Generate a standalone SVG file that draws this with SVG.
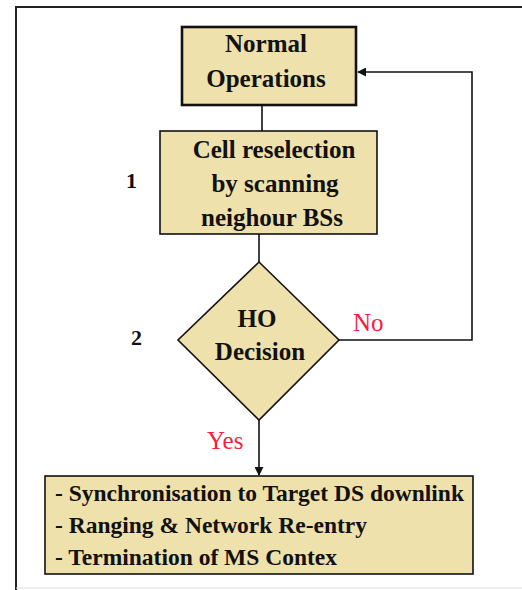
<svg xmlns="http://www.w3.org/2000/svg" width="522" height="590" viewBox="0 0 522 590">
<defs>
<style>
.box{fill:#EFE1AB;stroke:#111;stroke-width:1.6}
.t{font-family:"Liberation Serif","Times New Roman",serif;font-weight:bold;fill:#111}
.c{text-anchor:middle;font-size:25px}
.l{font-size:23.5px}
.n{font-size:22px}
.red{font-family:"Liberation Serif","Times New Roman",serif;fill:#F5213F;font-size:25px}
.ln{fill:none;stroke:#111;stroke-width:1.6}
</style>
<marker id="arr" viewBox="0 0 10 10" refX="9" refY="5" markerWidth="9" markerHeight="9" orient="auto" markerUnits="userSpaceOnUse">
<path d="M0,0 L10,5 L0,10 z" fill="#111"/>
</marker>
</defs>
<rect x="0" y="0" width="522" height="590" fill="#fff"/>
<path d="M16,590 V7 H522" fill="none" stroke="#222" stroke-width="2"/>
<line x1="16" y1="588" x2="522" y2="588" stroke="#ddd" stroke-width="1"/>
<g id="connectors">
<line class="ln" x1="262" y1="105" x2="262" y2="131"/>
<line class="ln" x1="259" y1="234" x2="259" y2="262"/>
<path class="ln" d="M339,340 H472 V72 H358" marker-end="url(#arr)"/>
<line class="ln" x1="259" y1="420" x2="259" y2="475" marker-end="url(#arr)"/>
</g>
<g id="normal">
<rect class="box" x="182" y="27" width="174" height="78" style="stroke-width:2.6"/>
<text class="t c" x="266" y="52">Normal</text>
<text class="t c" x="266" y="87">Operations</text>
</g>
<g id="cell">
<rect class="box" x="160" y="131" width="217" height="103"/>
<text class="t c" x="274" y="158">Cell reselection</text>
<text class="t c" x="275" y="192">by scanning</text>
<text class="t c" x="272" y="226">neighour BSs</text>
</g>
<g id="label1"><text class="t n" x="126" y="188">1</text></g>
<g id="decision">
<polygon class="box" points="259,262 339,340 259,420 178,340"/>
<text class="t c" x="257" y="327">HO</text>
<text class="t c" x="260" y="360">Decision</text>
</g>
<g id="label2"><text class="t n" x="131" y="345">2</text></g>
<g id="no"><text class="red" x="353" y="331">No</text></g>
<g id="yes"><text class="red" x="207" y="449">Yes</text></g>
<g id="steps">
<rect class="box" x="45" y="476" width="428" height="98"/>
<text class="t l" x="55" y="501">- Synchronisation to Target DS downlink</text>
<text class="t l" x="55" y="533">- Ranging &amp; Network Re-entry</text>
<text class="t l" x="55" y="565">- Termination of MS Contex</text>
</g>
</svg>
